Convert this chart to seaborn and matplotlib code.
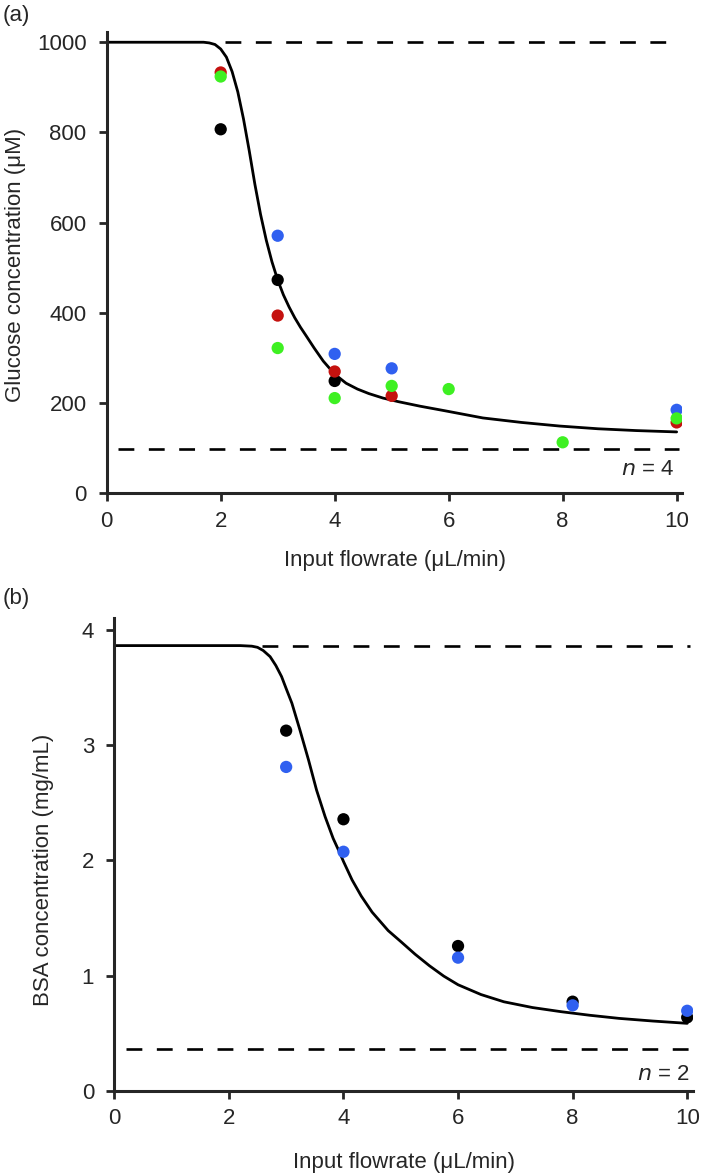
import numpy as np
import pandas as pd
import seaborn as sns
import matplotlib.pyplot as plt

# panel (a): glucose
glu_x = {
    "black": [2, 3, 4],
    "red": [2, 3, 4, 5, 10],
    "blue": [3, 4, 5, 10],
    "green": [2, 3, 4, 5, 6, 8, 10],
}
glu_y = {
    "black": [807, 473, 249],
    "red": [933, 394, 270, 216, 157],
    "blue": [571, 309, 277, 185],
    "green": [924, 322, 211, 238, 231, 113, 166],
}
glu_fit_x = [0, 1.70, 1.80, 1.90, 2.00, 2.10, 2.20, 2.30, 2.40, 2.50, 2.60, 2.70, 2.80,
             2.90, 3.00, 3.10, 3.20, 3.30, 3.40, 3.50, 3.64, 3.80, 4.00, 4.20, 4.40,
             4.60, 4.85, 5.12, 5.50, 5.93, 6.60, 7.28, 7.95, 8.62, 9.29, 10]
glu_fit_y = [1000, 1000, 998.5, 995, 985, 967, 935, 890, 830, 760, 685, 618, 561,
             513, 473, 440, 413, 389, 368, 349, 322, 293, 264, 244, 231,
             221, 211, 203, 193, 183, 167, 157, 149, 143, 139, 136]
glu_upper = 1000
glu_lower = 98

# panel (b): BSA
bsa_x = {
    "black": [3, 4, 6, 8, 10],
    "blue": [3, 4, 6, 8, 10],
}
bsa_y = {
    "black": [3.125, 2.356, 1.256, 0.773, 0.637],
    "blue": [2.81, 2.074, 1.155, 0.741, 0.694],
}
bsa_fit_x = [0, 2.20, 2.40, 2.50, 2.60, 2.72, 2.82, 2.92, 3.00, 3.10, 3.24, 3.39, 3.53,
             3.68, 3.82, 3.94, 4.00, 4.15, 4.31, 4.50, 4.78, 5.00, 5.25, 5.50, 5.75, 6.00,
             6.40, 6.80, 7.30, 7.80, 8.30, 8.81, 9.40, 10]
bsa_fit_y = [3.863, 3.863, 3.858, 3.848, 3.82, 3.767, 3.69, 3.594, 3.49, 3.363, 3.131, 2.871, 2.61,
             2.378, 2.19, 2.06, 1.99, 1.83, 1.69, 1.55, 1.39, 1.295, 1.185, 1.085, 0.995, 0.92,
             0.835, 0.772, 0.722, 0.686, 0.655, 0.628, 0.605, 0.585]
bsa_upper = 3.863
bsa_lower = 0.359

colors = {"black": "#000000", "red": "#c5120f", "blue": "#3060f0", "green": "#3ef022"}

sns.set_style("ticks")
plt.rcParams['font.family'] = ['Liberation Sans', 'DejaVu Sans']
plt.rcParams['axes.linewidth'] = 2.2
plt.rcParams['xtick.major.width'] = 2.0
plt.rcParams['ytick.major.width'] = 2.0
plt.rcParams['xtick.major.size'] = 5.5
plt.rcParams['ytick.major.size'] = 5.5
plt.rcParams['xtick.major.pad'] = 7
plt.rcParams['ytick.major.pad'] = 9
plt.rcParams['xtick.labelsize'] = 16
plt.rcParams['ytick.labelsize'] = 16


def to_frame(xs, ys):
    rows = []
    for key in xs:
        for a, b in zip(xs[key], ys[key]):
            rows.append({"flow": a, "conc": b, "run": key})
    return pd.DataFrame(rows)


def draw_panel(ax, xs, ys, fit_x, fit_y, upper, upper_start, lower):
    fit = pd.DataFrame({"flow": fit_x, "conc": fit_y})
    sns.lineplot(data=fit, x="flow", y="conc", color="black", lw=2.0, ax=ax, zorder=2)
    ax.plot([upper_start, 10.05], [upper, upper], color="black", lw=1.9, dashes=(6, 5.5), zorder=1)
    ax.plot([0.2, 10.05], [lower, lower], color="black", lw=1.9, dashes=(6, 5.5), zorder=1)
    df = to_frame(xs, ys)
    sns.scatterplot(data=df, x="flow", y="conc", hue="run", palette=colors,
                    s=78, linewidth=0, legend=False, ax=ax, zorder=3)
    sns.despine(ax=ax)
    ax.set_xlim(0, 10.1)
    ax.set_xticks([0, 2, 4, 6, 8, 10])
    ax.set_xlabel("Input flowrate (μL/min)", fontsize=16)


fig = plt.figure(figsize=(7.02, 11.75), dpi=100)
ax1 = fig.add_axes([0.152, 0.5802, 0.820, 0.3923])
ax2 = fig.add_axes([0.1628, 0.0717, 0.8243, 0.4021])

draw_panel(ax1, glu_x, glu_y, glu_fit_x, glu_fit_y, glu_upper, 2.08, glu_lower)
ax1.set_ylim(0, 1022)
ax1.set_yticks([0, 200, 400, 600, 800, 1000])
ax1.set_ylabel("Glucose concentration (μM)", fontsize=16)
ax1.yaxis.set_label_coords(-0.141, 0.495)
ax1.xaxis.set_label_coords(0.5, -0.124)
ax1.text(9.95, 52, "$n$ = 4", ha="right", va="center", fontsize=16)

draw_panel(ax2, bsa_x, bsa_y, bsa_fit_x, bsa_fit_y, bsa_upper, 2.57, bsa_lower)
ax2.set_ylim(0, 4.1)
ax2.set_yticks([0, 1, 2, 3, 4])
ax2.set_ylabel("BSA concentration (mg/mL)", fontsize=16)
ax2.yaxis.set_label_coords(-0.105, 0.467)
ax2.xaxis.set_label_coords(0.5, -0.129)
ax2.text(10.05, 0.145, "$n$ = 2", ha="right", va="center", fontsize=16)

fig.text(0.004, 0.987, "(a)", fontsize=16, va="center", ha="left")
fig.text(0.004, 0.491, "(b)", fontsize=16, va="center", ha="left")

plt.savefig("out.png", dpi=100)
